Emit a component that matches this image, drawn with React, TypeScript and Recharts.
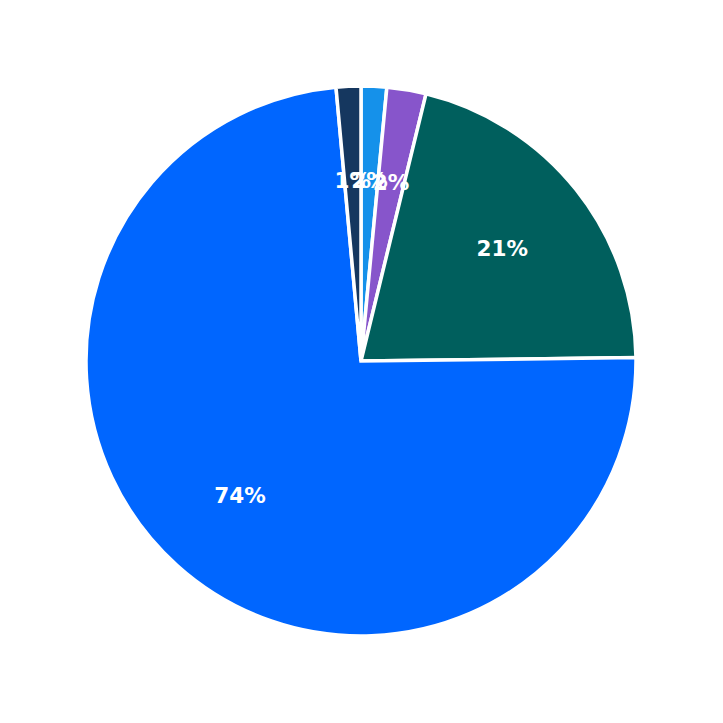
import React from "react";
import { PieChart, Pie, Cell } from "recharts";

const categories = ["Light Blue", "Purple", "Teal", "Blue", "Navy"];
const values = [1.5, 2.3, 21.0, 73.75, 1.45];
const colors = ["#1591EA", "#8755CB", "#005F5D", "#0066FF", "#15375F"];

const data = categories.map((name, i) => ({ name, value: values[i] }));

const RADIAN = Math.PI / 180;

const renderLabel = (props: any) => {
  const { cx, cy, midAngle, outerRadius, percent } = props;
  const r = outerRadius * 0.657;
  const x = cx + r * Math.cos(-midAngle * RADIAN);
  const y = cy + r * Math.sin(-midAngle * RADIAN);
  return (
    <text
      x={x}
      y={y}
      fill="#ffffff"
      textAnchor="middle"
      dominantBaseline="central"
      fontFamily="DejaVu Sans"
      fontWeight="bold"
      fontSize={21.5}
    >
      {`${Math.round(percent * 100)}%`}
    </text>
  );
};

export default function App() {
  return (
    <div style={{ width: 707, height: 707 }}>
      <PieChart
        width={707}
        height={707}
        margin={{ top: 0, right: 0, bottom: 0, left: 0 }}
      >
        <Pie
          data={data}
          dataKey="value"
          nameKey="name"
          cx={353}
          cy={353}
          outerRadius={275}
          startAngle={90}
          endAngle={-270}
          stroke="#ffffff"
          strokeWidth={3.5}
          label={renderLabel}
          labelLine={false}
          isAnimationActive={false}
        >
          {data.map((d, i) => (
            <Cell key={d.name} fill={colors[i]} />
          ))}
        </Pie>
      </PieChart>
    </div>
  );
}
